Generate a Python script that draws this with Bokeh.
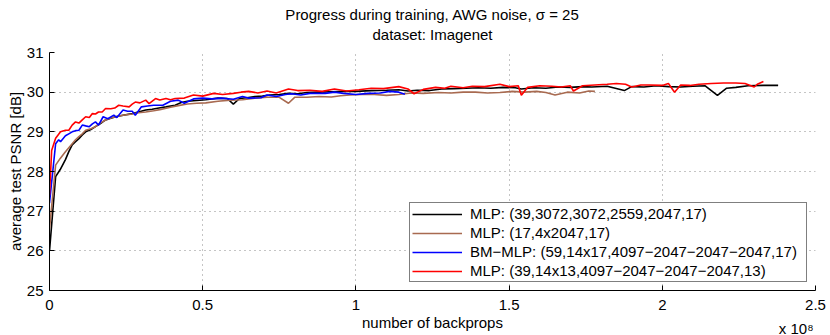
from bokeh.plotting import figure
from bokeh.embed import file_html
from bokeh.resources import INLINE
from bokeh.models import Range1d, FixedTicker, Title, LinearAxis, CustomJSTickFormatter

# ---------------- data (x in units of 1e8 backprops, y = PSNR dB) ----------------
series_labels = [
    "MLP: (39,3072,3072,2559,2047,17)",
    "MLP: (17,4x2047,17)",
    "BM\u2212MLP: (59,14x17,4097\u22122047\u22122047\u22122047,17)",
    "MLP: (39,14x13,4097\u22122047\u22122047\u22122047,13)",
]

black_x = [0.0, 0.02, 0.035, 0.052, 0.063, 0.074, 0.085, 0.096, 0.107, 0.118, 0.135, 0.15, 0.165,
           0.183, 0.2, 0.216, 0.24, 0.27, 0.29, 0.314, 0.335, 0.357, 0.38, 0.41, 0.43, 0.45, 0.48,
           0.51, 0.55, 0.58, 0.6, 0.62, 0.645, 0.67, 0.695, 0.72, 0.75, 0.78, 0.81, 0.84, 0.88,
           0.92, 0.96, 1.0, 1.05, 1.1, 1.14, 1.17, 1.2, 1.24, 1.28, 1.32, 1.36, 1.4, 1.44, 1.48,
           1.52, 1.54, 1.58, 1.62, 1.66, 1.7, 1.74, 1.77, 1.82, 1.876, 1.9, 1.94, 1.98, 2.02,
           2.06, 2.1, 2.14, 2.18, 2.21, 2.24, 2.28, 2.33, 2.378]
black_y = [26.0, 27.87, 28.05, 28.3, 28.5, 28.67, 28.75, 28.83, 28.92, 29.0, 29.06, 29.13, 29.2,
           29.3, 29.34, 29.38, 29.42, 29.46, 29.5, 29.55, 29.57, 29.6, 29.63, 29.67, 29.74, 29.77,
           29.79, 29.81, 29.85, 29.84, 29.7, 29.84, 29.86, 29.89, 29.9, 29.93, 29.94, 29.97,
           29.96, 29.99, 30.0, 30.01, 30.02, 30.02, 30.04, 30.05, 30.06, 30.03, 30.05, 30.04,
           30.08, 30.09, 30.1, 30.11, 30.1, 30.12, 30.11, 30.08, 30.11, 30.1, 30.13, 30.12,
           30.14, 30.13, 30.15, 30.04, 30.14, 30.13, 30.16, 30.14, 30.13, 30.15, 30.16, 29.92,
           30.1, 30.12, 30.16, 30.17, 30.17]

brown_x = [0.0, 0.02, 0.035, 0.052, 0.063, 0.074, 0.085, 0.096, 0.107, 0.118, 0.135, 0.15, 0.165,
           0.183, 0.2, 0.216, 0.24, 0.27, 0.29, 0.314, 0.34, 0.36, 0.395, 0.42, 0.45, 0.48, 0.51,
           0.55, 0.59, 0.63, 0.67, 0.71, 0.75, 0.78, 0.8, 0.84, 0.88, 0.92, 0.95, 0.98, 1.02,
           1.06, 1.1, 1.14, 1.18, 1.22, 1.27, 1.31, 1.35, 1.39, 1.43, 1.47, 1.51, 1.55, 1.59,
           1.62, 1.65, 1.69, 1.73, 1.76, 1.78]
brown_y = [26.55, 28.16, 28.33, 28.5, 28.6, 28.7, 28.8, 28.88, 28.95, 29.04, 29.08, 29.13, 29.22,
           29.3, 29.35, 29.38, 29.42, 29.45, 29.48, 29.5, 29.53, 29.56, 29.62, 29.66, 29.7, 29.72,
           29.73, 29.77, 29.8, 29.81, 29.85, 29.87, 29.87, 29.72, 29.87, 29.87, 29.89, 29.88,
           29.91, 29.93, 29.94, 29.94, 29.92, 29.94, 29.98, 29.97, 29.99, 29.98, 30.0, 30.0,
           29.98, 29.99, 30.02, 30.0, 30.02, 29.99, 29.93, 30.0, 29.98, 30.03, 30.02]

blue_x = [0.0, 0.02, 0.03, 0.036, 0.052, 0.063, 0.074, 0.085, 0.096, 0.107, 0.118, 0.13, 0.14,
          0.15, 0.16, 0.175, 0.19, 0.21, 0.22, 0.24, 0.255, 0.27, 0.28, 0.3, 0.32, 0.34, 0.37,
          0.395, 0.42, 0.44, 0.47, 0.5, 0.53, 0.56, 0.6, 0.63, 0.65, 0.69, 0.71, 0.74, 0.77,
          0.79, 0.82, 0.85, 0.9, 0.93, 0.96, 1.0, 1.04, 1.08, 1.11, 1.14, 1.16]
blue_y = [27.2, 28.7, 28.8, 28.75, 28.9, 28.95, 29.0, 29.03, 29.04, 29.17, 29.15, 29.13, 29.2,
          29.25, 29.17, 29.38, 29.33, 29.42, 29.36, 29.55, 29.52, 29.52, 29.42, 29.63, 29.65,
          29.67, 29.67, 29.77, 29.8, 29.72, 29.83, 29.85, 29.83, 29.85, 29.82, 29.89, 29.85,
          29.86, 29.93, 29.89, 29.94, 29.96, 29.93, 29.97, 29.97, 30.0, 29.97, 29.94, 29.97,
          29.98, 30.02, 30.0, 29.95]

red_x = [0.0, 0.007, 0.02, 0.036, 0.052, 0.063, 0.074, 0.085, 0.096, 0.107, 0.118, 0.13, 0.14,
         0.15, 0.16, 0.172, 0.183, 0.2, 0.213, 0.226, 0.24, 0.26, 0.27, 0.28, 0.295, 0.314, 0.325,
         0.346, 0.36, 0.38, 0.395, 0.41, 0.44, 0.47, 0.5, 0.536, 0.565, 0.6, 0.625, 0.65, 0.68,
         0.71, 0.74, 0.78, 0.81, 0.85, 0.89, 0.93, 0.97, 1.01, 1.05, 1.09, 1.14, 1.17, 1.19,
         1.22, 1.26, 1.29, 1.31, 1.35, 1.38, 1.42, 1.47, 1.5, 1.53, 1.54, 1.56, 1.6, 1.64, 1.67,
         1.7, 1.71, 1.74, 1.78, 1.82, 1.85, 1.88, 1.9, 1.93, 1.96, 2.0, 2.02, 2.04, 2.06, 2.09,
         2.12, 2.16, 2.2, 2.24, 2.27, 2.3, 2.31, 2.33]
red_y = [27.4, 28.53, 28.84, 29.0, 29.04, 29.04, 29.17, 29.25, 29.22, 29.3, 29.38, 29.36, 29.46,
         29.45, 29.5, 29.5, 29.59, 29.58, 29.6, 29.67, 29.65, 29.63, 29.7, 29.75, 29.73, 29.8,
         29.71, 29.84, 29.8, 29.84, 29.81, 29.84, 29.85, 29.93, 29.9, 29.97, 29.94, 29.97, 30.0,
         30.02, 29.98, 30.03, 29.98, 30.08, 30.04, 30.05, 30.02, 30.08, 30.03, 30.06, 30.1,
         30.09, 30.14, 30.08, 29.96, 30.07, 30.12, 30.1, 30.15, 30.11, 30.15, 30.14, 30.2,
         30.14, 30.16, 29.92, 30.12, 30.16, 30.15, 30.13, 30.16, 30.03, 30.16, 30.18, 30.2,
         30.22, 30.2, 30.13, 30.18, 30.18, 30.17, 30.22, 30.0, 30.18, 30.17, 30.2, 30.22, 30.23,
         30.23, 30.22, 30.13, 30.2, 30.27]

x_ticks = [0, 0.5, 1, 1.5, 2, 2.5]
x_tick_labels = ["0", "0.5", "1", "1.5", "2", "2.5"]
y_ticks = [25, 26, 27, 28, 29, 30, 31]

title_lines = ["Progress during training, AWG noise, \u03c3 = 25", "dataset: Imagenet"]
x_label = "number of backprops"
x_scale_label = "x 10\u2078"
y_label = "average test PSNR [dB]"

# ---------------- figure ----------------
FONT = "Liberation Sans"
p = figure(width=830, height=335, output_backend="svg", toolbar_location=None,
           x_range=Range1d(0, 2.5), y_range=Range1d(25, 31),
           min_border_left=49, min_border_right=15, min_border_top=52, min_border_bottom=45)
p.outline_line_color = None
p.background_fill_color = "white"
p.border_fill_color = "white"

colors = ["#000000", "#a86a50", "#0000ff", "#ff0000"]
xs = [black_x, brown_x, blue_x, red_x]
ys = [black_y, brown_y, blue_y, red_y]
for xx, yy, c, lab in zip(xs, ys, colors, series_labels):
    p.line(xx, yy, line_color=c, line_width=1.6, legend_label=lab)

for ax in (p.xaxis[0], p.yaxis[0]):
    ax.axis_line_color = "black"
    ax.axis_line_width = 1
    ax.major_tick_in = 5
    ax.major_tick_out = 0
    ax.major_tick_line_color = "black"
    ax.minor_tick_line_color = None
    ax.major_label_text_font = FONT
    ax.major_label_text_font_size = "15px"
    ax.major_label_text_color = "black"
    ax.axis_label_text_font = FONT
    ax.axis_label_text_font_size = "15px"
    ax.axis_label_text_font_style = "normal"
    ax.axis_label_text_color = "black"

p.xaxis[0].ticker = FixedTicker(ticks=x_ticks)
p.xaxis[0].formatter = CustomJSTickFormatter(
    args=dict(tvals=x_ticks, tlabs=x_tick_labels),
    code="for (let i = 0; i < tvals.length; i++) { if (Math.abs(tvals[i] - tick) < 1e-9) return tlabs[i]; } return '';")
p.xaxis[0].major_label_standoff = 9
p.xaxis[0].axis_label = x_label
p.xaxis[0].axis_label_standoff = 1
p.yaxis[0].ticker = FixedTicker(ticks=y_ticks)
p.yaxis[0].major_label_standoff = 6
p.yaxis[0].axis_label = y_label
p.yaxis[0].axis_label_standoff = 0

# exponent note at the right end of the x axis (a right-aligned title below, pulled up)
p.add_layout(Title(text=x_scale_label, align="right", offset=2, vertical_align="top",
                   standoff=-28, text_font=FONT, text_font_size="15px",
                   text_font_style="normal", text_color="black"), "below")

for g in (p.xgrid[0], p.ygrid[0]):
    g.grid_line_color = "#8a8a8a"
    g.grid_line_dash = "1 4"
    g.grid_line_width = 1
p.xgrid[0].ticker = FixedTicker(ticks=x_ticks)
p.ygrid[0].ticker = FixedTicker(ticks=y_ticks)

lg = p.legend[0]
lg.location = "bottom_right"
lg.margin = 8
lg.padding = 2
lg.spacing = 2
lg.label_height = 16
lg.glyph_height = 16
lg.glyph_width = 50
lg.label_standoff = 8
lg.label_width = 334
lg.border_line_color = "black"
lg.border_line_width = 1
lg.background_fill_color = "white"
lg.background_fill_alpha = 1
lg.label_text_font = FONT
lg.label_text_font_size = "15px"
lg.label_text_color = "black"

# spacer between plot and title: an axis with one hidden, unlabeled tick
spacer = LinearAxis(ticker=FixedTicker(ticks=[1.25]), axis_line_color=None,
                    major_tick_line_color=None, minor_tick_line_color=None,
                    major_tick_out=10, major_tick_in=0, major_label_standoff=0,
                    formatter=CustomJSTickFormatter(code="return '';"))
p.add_layout(spacer, "above")

# title: two centred lines; the second one is added first so it sits nearer the plot
p.add_layout(Title(text=title_lines[1], align="center", text_font=FONT, text_font_size="15px",
                   text_font_style="normal", text_color="black", standoff=0), "above")
p.add_layout(Title(text=title_lines[0], align="center", vertical_align="middle", text_font=FONT,
                   text_font_size="15px", text_font_style="normal", text_color="black",
                   standoff=0), "above")

open("out.html", "w").write(file_html(p, INLINE))
